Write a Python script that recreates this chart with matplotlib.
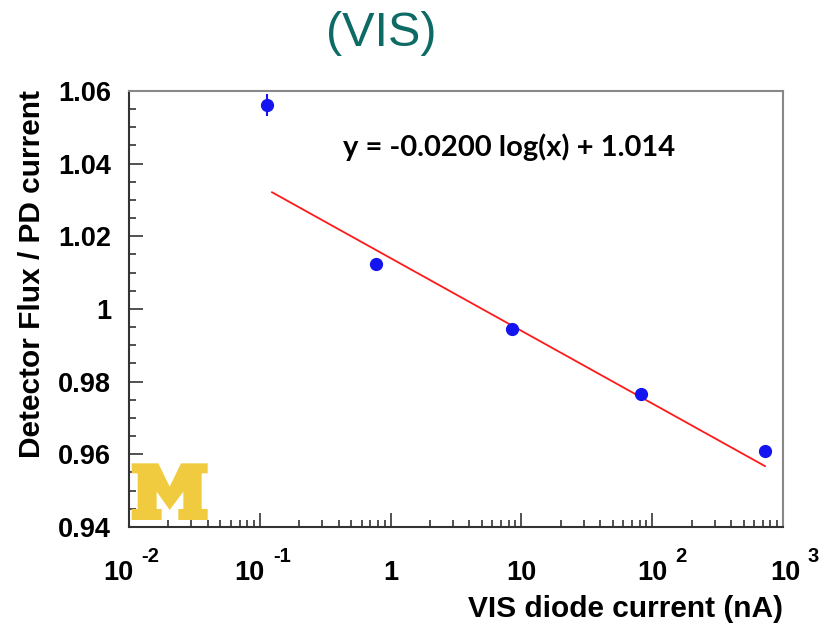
import numpy as np
import matplotlib
matplotlib.use("Agg")
import matplotlib.pyplot as plt
import matplotlib.transforms as mtransforms
from matplotlib.patches import Polygon
from matplotlib.ticker import FixedLocator, MultipleLocator, LogLocator, NullFormatter

# data
current_nA = [0.1135, 0.773, 8.47, 82.0, 728.0]
ratio = [1.0561, 1.0124, 0.9945, 0.9766, 0.9609]
ratio_err = [0.0030, 0.0004, 0.0004, 0.0004, 0.0004]

# fit: y = -0.0200 log10(x) + 1.014
fit_slope = -0.0200
fit_const = 1.014
fit_range = [0.124, 728.0]

x_ticks = [1e-2, 1e-1, 1, 10, 1e2, 1e3]
x_base = ["10", "10", "1", "10", "10", "10"]
x_power = ["-2", "-1", "", "", "2", "3"]
y_ticks = [0.94, 0.96, 0.98, 1.00, 1.02, 1.04, 1.06]
y_ticklabels = ["0.94", "0.96", "0.98", "1", "1.02", "1.04", "1.06"]

W, H = 829, 628
fig = plt.figure(figsize=(W / 100, H / 100), dpi=100)
FONT = "Liberation Sans"

ax = fig.add_axes([129 / W, 1 - 527 / H, (783 - 129) / W, (527 - 91) / H])
ax.set_xscale("log")
ax.set_xlim(1e-2, 1e3)
ax.set_ylim(0.94, 1.06)

xf = np.logspace(np.log10(fit_range[0]), np.log10(fit_range[1]), 50)
ax.plot(xf, fit_slope * np.log10(xf) + fit_const, color="#ff1a1a", lw=1.3, zorder=2)
ax.errorbar(current_nA, ratio, yerr=ratio_err, fmt="o", color="#1414f0",
            ms=8.5, elinewidth=1.5, capsize=0, zorder=3)

# ticks, ROOT-like (inside, left/bottom only)
ax.xaxis.set_major_locator(FixedLocator(x_ticks))
ax.xaxis.set_major_formatter(NullFormatter())
ax.xaxis.set_minor_locator(LogLocator(base=10, subs=np.arange(2, 10)))
ax.xaxis.set_minor_formatter(NullFormatter())
ax.yaxis.set_major_locator(FixedLocator(y_ticks))
ax.set_yticklabels(y_ticklabels)
ax.yaxis.set_minor_locator(MultipleLocator(0.005))
ax.tick_params(which="both", direction="in", top=False, right=False,
               colors="#333333", width=1.2, labelcolor="black")
ax.tick_params(which="major", length=10)
ax.tick_params(which="minor", length=5)
ax.tick_params(axis="y", which="major", pad=13, labelsize=19.5)
for lab in ax.get_yticklabels():
    lab.set_fontfamily(FONT)
    lab.set_fontweight("bold")
for side, sp in ax.spines.items():
    sp.set_linewidth(1.5)
    sp.set_color("#333333" if side in ("left", "bottom") else "#888888")

# x tick labels drawn ROOT style: "10" with a raised exponent
xy_trans = mtransforms.blended_transform_factory(ax.transData, fig.transFigure)
base_dx = {"-2": -11, "-1": -10, "2": 0, "3": 2}
for xt, b, p in zip(x_ticks, x_base, x_power):
    dx = base_dx.get(p, 0)
    tb = mtransforms.offset_copy(xy_trans, fig=fig, x=dx, y=0, units="dots")
    ax.text(xt, 1 - 580 / H, b, transform=tb, fontsize=19.5, fontweight="bold",
            fontfamily=FONT, ha="center", va="baseline", clip_on=False)
    if p:
        ts = mtransforms.offset_copy(xy_trans, fig=fig, x=dx + 15 + 8, y=18,
                                     units="dots")
        ax.text(xt, 1 - 580 / H, p, transform=ts, fontsize=14.5,
                fontweight="bold", fontfamily=FONT, ha="left", va="baseline",
                clip_on=False)

fig.text(343 / W, 1 - 147 / H, "y = -0.0200 log(x) + 1.014", fontsize=21,
         fontweight="bold", fontfamily="Lato", ha="left", va="center")

fig.text(381 / W, 1 - 34 / H, "(VIS)", fontsize=35, color="#0e6a64",
         fontfamily=FONT, ha="center", va="center")
fig.text(32 / W, 1 - 274 / H, "Detector Flux / PD current", rotation=90,
         fontsize=21.5, fontweight="bold", fontfamily=FONT,
         ha="center", va="center")
fig.text(783 / W, 1 - 609 / H, "VIS diode current (nA)",
         fontsize=21.5, fontweight="bold", fontfamily=FONT,
         ha="right", va="center")

# block M logo (outline in pixel coords of the picture)
m_outline = [(20, 25), (100, 25), (134, 95), (168, 25), (248, 25), (248, 55),
             (230, 55), (230, 162), (248, 162), (248, 195), (160, 195),
             (160, 162), (175, 162), (175, 110), (134, 165), (95, 110),
             (95, 162), (110, 162), (110, 195), (20, 195), (20, 162),
             (38, 162), (38, 55), (20, 55)]
pts = [((125 + zx / 3) / W, 1 - (455 + zy / 3) / H) for zx, zy in m_outline]
fig.patches.append(Polygon(pts, closed=True, transform=fig.transFigure,
                           facecolor="#f1cb3f", edgecolor="none", zorder=5))

fig.savefig("out.png", dpi=100)
